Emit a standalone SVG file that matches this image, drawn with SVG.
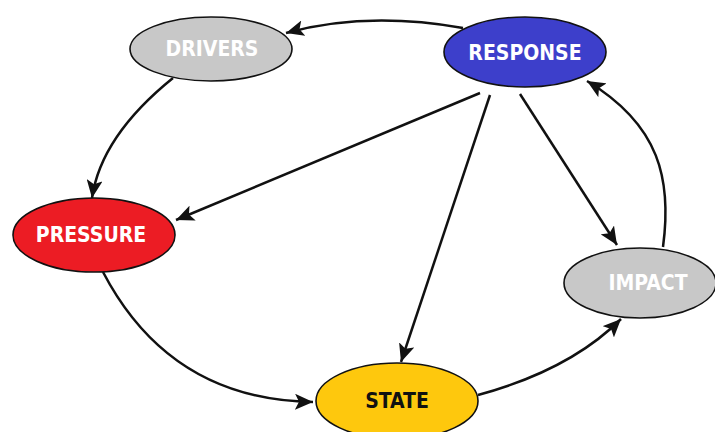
<svg xmlns="http://www.w3.org/2000/svg" width="715" height="432" viewBox="0 0 715 432">
<style>
.node ellipse{stroke:#111;stroke-width:1.6}
.lbl{font-family:"DejaVu Sans Condensed","DejaVu Sans","Liberation Sans",sans-serif;font-stretch:condensed;font-weight:bold;font-size:21px;text-anchor:middle;fill:#fff}
.dark{fill:#111}
.edge{fill:none;stroke:#111;stroke-width:2.5;marker-end:url(#ah)}
</style>
<defs>
<marker id="ah" markerUnits="userSpaceOnUse" markerWidth="20" markerHeight="16" refX="18" refY="8" orient="auto">
<path d="M0,0 L18,8 L0,16 L4,8 Z" fill="#111"/>
</marker>
</defs>
<rect width="715" height="432" fill="#fff"/>
<g id="connectors">
<path class="edge" d="M463,28 Q366,11 286,33"/>
<path class="edge" d="M173,78 Q101,136 92,198"/>
<path class="edge" d="M480,93 L176,220"/>
<path class="edge" d="M490,95 L401,362"/>
<path class="edge" d="M520,94 L617,245"/>
<path class="edge" d="M663,247 C672,180 660,125 587,81"/>
<path class="edge" d="M103,272 Q170,400 313,402"/>
<path class="edge" d="M478,395 Q570,370 621,319"/>
</g>
<g id="drivers" class="node">
<ellipse cx="211" cy="49" rx="81" ry="32" fill="#c8c8c8"/>
<text class="lbl" x="212" y="56">DRIVERS</text>
</g>
<g id="response" class="node">
<ellipse cx="525" cy="52" rx="81" ry="35" fill="#3d3fcb"/>
<text class="lbl" x="525" y="60">RESPONSE</text>
</g>
<g id="pressure" class="node">
<ellipse cx="94" cy="235" rx="81" ry="37" fill="#ec1c24"/>
<text class="lbl" x="91" y="242">PRESSURE</text>
</g>
<g id="impact" class="node">
<ellipse cx="640" cy="283" rx="76" ry="35" fill="#c8c8c8"/>
<text class="lbl" x="648" y="290">IMPACT</text>
</g>
<g id="state" class="node">
<ellipse cx="397" cy="401" rx="81" ry="38" fill="#fec80d"/>
<text class="lbl dark" x="397" y="408">STATE</text>
</g>
</svg>
